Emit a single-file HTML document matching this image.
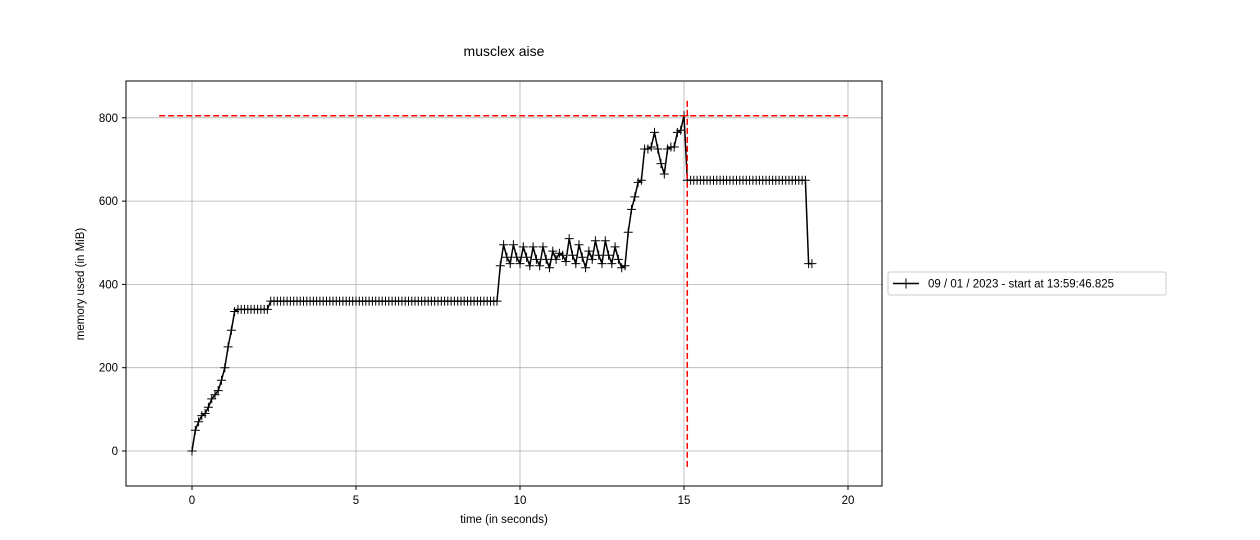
<!DOCTYPE html>
<html><head><meta charset="utf-8"><style>
html,body{margin:0;padding:0;background:#fff;}
svg{display:block;font-family:"Liberation Sans","DejaVu Sans",sans-serif;}
</style></head><body>
<svg id="chart" width="1260" height="540" viewBox="0 0 1260 540" xmlns="http://www.w3.org/2000/svg">
<text x="504" y="56" font-size="14" text-anchor="middle">musclex aise</text>
<g id="grid"></g>
<g id="series"></g>
<rect x="126" y="81" width="756" height="405" fill="none" stroke="#000" stroke-width="1"/>
<g id="ticks" font-size="11.5"></g>
<text x="504" y="523" font-size="11.5" text-anchor="middle">time (in seconds)</text>
<text transform="translate(84,284) rotate(-90)" font-size="11.5" text-anchor="middle">memory used (in MiB)</text>
<g>
<rect x="888" y="272" width="278" height="23" fill="#fff" stroke="#ccc" rx="2"/>
<line x1="893" y1="283.5" x2="919" y2="283.5" stroke="#000" stroke-width="1.5"/>
<path d="M906 278.5V288.5M901 283.5H911" stroke="#000" stroke-width="1"/>
<text x="928" y="287.5" font-size="11.5">09 / 01 / 2023 - start at 13:59:46.825</text>
</g>
</svg>
<script>
const dt = 0.1;
const memValues = [0,50,70,85,90,105,125,135,145,170,200,250,290,335,
340,340,340,340,340,340,340,340,340,340,
360,360,360,360,360,360,360,360,360,360,
360,360,360,360,360,360,360,360,360,360,
360,360,360,360,360,360,360,360,360,360,
360,360,360,360,360,360,360,360,360,360,
360,360,360,360,360,360,360,360,360,360,
360,360,360,360,360,360,360,360,360,360,
360,360,360,360,360,360,360,360,360,360,
445,495,465,450,495,465,450,490,465,445,490,460,445,490,460,440,480,460,475,470,455,510,470,450,495,465,440,480,460,505,470,450,505,470,450,490,460,440,445,
525,580,610,645,650,725,725,730,765,725,690,665,725,730,730,765,770,805,
650,650,650,650,650,650,650,650,650,650,650,650,650,650,650,650,650,650,650,650,650,650,650,650,650,650,650,650,650,650,650,650,650,650,650,650,650,
450,450];
const xTicks = [0,5,10,15,20];
const yTicks = [0,200,400,600,800];
const peakMem = 805;
const peakTime = 15.1;
const hLineRange = [-1,20];
const vLineRange = [-38,845];

const X = t => 192 + (t) * 32.8;
const Y = v => 451 - v * 0.4165;
const NS = "http://www.w3.org/2000/svg";
function mk(tag, attrs, parent){const e=document.createElementNS(NS,tag);for(const k in attrs)e.setAttribute(k,attrs[k]);parent.appendChild(e);return e;}
const grid=document.getElementById('grid'), ticks=document.getElementById('ticks'), series=document.getElementById('series');
xTicks.forEach(t=>{
  const l=mk('line',{x1:X(t),x2:X(t),y1:81,y2:486,stroke:'#b0b0b0','stroke-width':0.8},grid);
  
  
  mk('line',{x1:X(t),x2:X(t),y1:486,y2:490,stroke:'#000'},ticks);
  const tx=mk('text',{x:X(t),y:504,'text-anchor':'middle'},ticks);tx.textContent=t;
  
  
});
yTicks.forEach(v=>{
  const l=mk('line',{x1:126,x2:882,y1:Y(v),y2:Y(v),stroke:'#b0b0b0','stroke-width':0.8},grid);
  
  
  mk('line',{x1:122,x2:126,y1:Y(v),y2:Y(v),stroke:'#000'},ticks);
  const tx=mk('text',{x:118,y:Y(v)+4,'text-anchor':'end'},ticks);tx.textContent=v;
  
  
});
let d='',m='';
memValues.forEach((v,i)=>{const x=X(i*dt),y=Y(v);d+=(i?'L':'M')+x.toFixed(1)+' '+y.toFixed(1);m+=`M${x.toFixed(1)} ${(y-4.5).toFixed(1)}V${(y+4.5).toFixed(1)}M${(x-4.5).toFixed(1)} ${y.toFixed(1)}H${(x+4.5).toFixed(1)}`;});
const line=mk('path',{d:d,fill:'none',stroke:'#000','stroke-width':1.5},series);


const marks=mk('path',{d:m,fill:'none',stroke:'#000','stroke-width':1},series);


const hl=mk('line',{x1:X(hLineRange[0]),x2:X(hLineRange[1]),y1:Y(peakMem),y2:Y(peakMem),stroke:'#f00','stroke-width':1.5,'stroke-dasharray':'6,3'},series);


const vl=mk('line',{x1:X(peakTime),x2:X(peakTime),y1:Y(vLineRange[0]),y2:Y(vLineRange[1]),stroke:'#f00','stroke-width':1.5,'stroke-dasharray':'6,3'},series);


</script>
</body></html>
